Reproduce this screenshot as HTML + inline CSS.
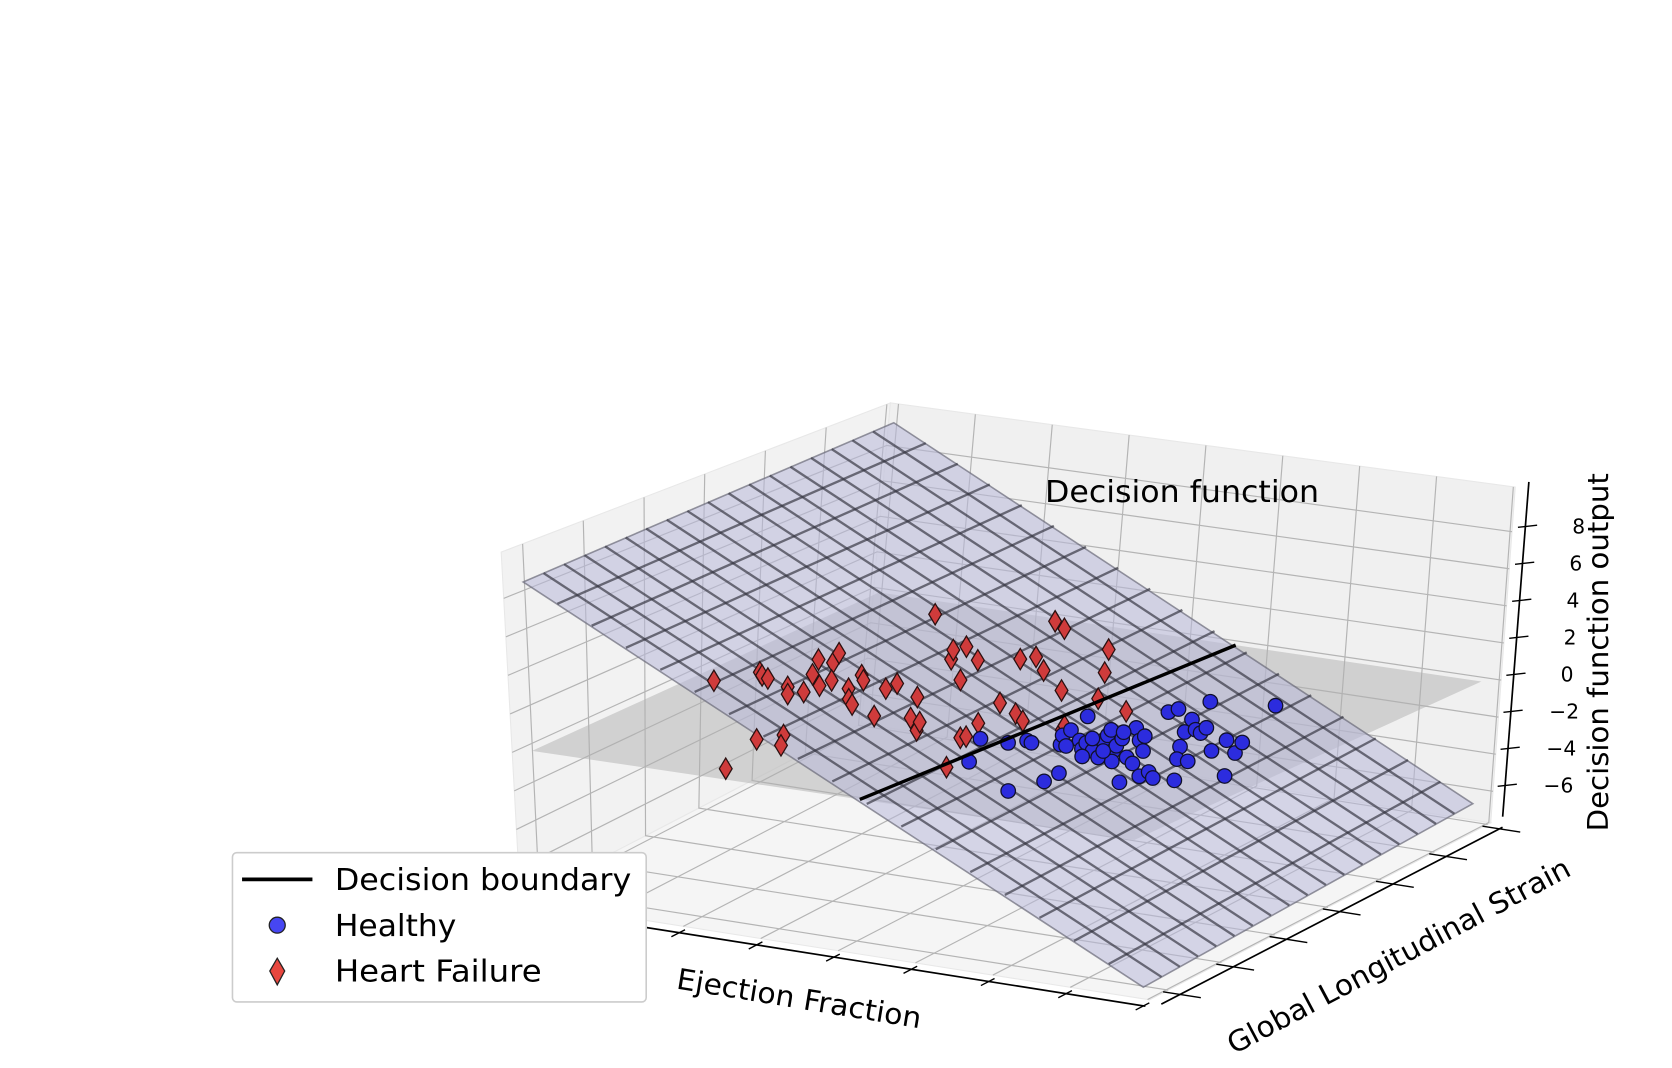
<!DOCTYPE html>
<html><head><meta charset="utf-8"><title>Decision function</title>
<style>html,body{margin:0;padding:0;background:#fff;}svg{display:block;font-family:"DejaVu Sans","Liberation Sans",sans-serif;}</style>
</head><body>
<svg id="chart" width="1672" height="1068" viewBox="0 0 1568 1002" preserveAspectRatio="none" xmlns="http://www.w3.org/2000/svg">
<g id="panes"></g>
<g id="grid"></g>
<g id="axes"></g>
<g id="surfaces"></g>
<g id="points"></g>
<g id="boundary"></g>
<text x="980" y="471" font-size="28" textLength="257" lengthAdjust="spacingAndGlyphs" fill="#000">Decision function</text>
<text x="0" y="0" font-size="27" text-anchor="middle" transform="translate(748,946) rotate(9.3)" textLength="232" lengthAdjust="spacingAndGlyphs" fill="#000">Ejection Fraction</text>
<text x="0" y="0" font-size="27" text-anchor="middle" transform="translate(1316,905) rotate(-28)" textLength="360" lengthAdjust="spacingAndGlyphs" fill="#000">Global Longitudinal Strain</text>
<text x="0" y="0" font-size="27" text-anchor="middle" transform="translate(1508,612) rotate(-90)" textLength="336" lengthAdjust="spacingAndGlyphs" fill="#000">Decision function output</text>
<g id="zlabels"></g>
<g>
  <rect x="218" y="800" width="388" height="140" rx="4" fill="#fff" stroke="#cccccc" stroke-width="1.5"/>
  <line x1="227" y1="825" x2="293" y2="825" stroke="#000" stroke-width="3.5"/>
  <text x="314" y="835" font-size="28" textLength="278" lengthAdjust="spacingAndGlyphs">Decision boundary</text>
  <circle cx="260" cy="868" r="7.5" fill="#4646f2" stroke="#222" stroke-width="1.2"/>
  <text x="314" y="878" font-size="28" textLength="114" lengthAdjust="spacingAndGlyphs">Healthy</text>
  <polygon points="260,899 267,911 260,924 253,911" fill="#e8473f" stroke="#222" stroke-width="1.2"/>
  <text x="314" y="921" font-size="28" textLength="194" lengthAdjust="spacingAndGlyphs">Heart Failure</text>
</g>
</svg>
<script>
// ---- data (normalized scale 0..100 on both feature axes) ----
const efHealthy = [52.8,57.5,57.2,58.9,60.0,69.9,71.7,71.3,64.0,61.8,61.4,59.8,65.2,67.7,66.6,69.5,71.9,68.0,67.2,66.2,72.0,74.6,71.0,69.8,75.3,77.6,68.7,72.4,75.6,71.9,81.0,81.8,81.8,83.9,68.4,68.8,75.6,73.2,76.3,77.8,77.1,70.7,78.9,81.8,83.7,87.1,83.8,92.0,82.8,87.2,85.3,79.6,69.7,65.0,68.3,70.8,66.2];
const glsHealthy = [37.9,26.6,37.9,40.2,39.5,15.9,22.7,27.5,40.6,45.0,48.0,55.4,43.8,40.1,43.2,39.9,37.3,45.4,48.1,50.8,41.3,36.4,43.9,47.6,39.3,36.9,53.4,47.9,43.3,50.2,27.4,31.5,34.1,31.6,62.8,64.9,54.8,61.0,56.6,55.4,58.2,70.4,47.8,41.9,41.6,32.0,48.0,37.4,53.9,48.6,53.9,73.0,36.7,40.4,50.6,40.6,45.6];
const efFailure = [5.4,8.7,9.8,11.3,15.9,17.8,19.2,15.6,19.4,15.0,13.2,19.5,23.7,26.5,28.3,21.7,23.3,34.0,28.2,28.2,38.9,34.2,42.9,41.1,14.5,28.3,26.1,26.8,31.8,34.9,50.1,50.5,48.4,45.7,50.4,53.2,36.6,37.9,42.4,30.8,33.9,49.8,44.7,50.3,56.4,63.1,60.3,26.0,28.1,30.5,30.0,56.2,12.4,59.5];
const glsFailure = [46.4,53.4,52.1,51.1,48.6,45.3,47.3,56.0,51.3,62.7,67.5,54.5,51.9,47.1,44.9,59.0,56.7,41.1,54.4,57.5,42.7,52.7,37.4,41.4,91.8,72.3,76.7,79.1,73.6,63.4,37.0,37.9,44.9,55.6,51.8,48.9,77.0,79.1,73.4,96.7,93.9,65.5,87.4,76.6,64.2,60.3,47.4,22.5,26.3,21.4,7.0,22.6,63.2,49.5];
const xTicks = [1.3,13.6,25.9,38.2,50.5,62.8,75.1,87.4,99.7];
const yTicks = [5.5,21.1,36.7,52.3,67.9,83.5,99.1];
const zTicks = [-6,-4,-2,0,2,4,6,8];
const zTickLabels = ["\u22126","\u22124","\u22122","0","2","4","6","8"];
const planeCoef = [9.1,-0.168,0.008]; // z = c0 + c1*EF + c2*GLS
const xDomain = [0,100], yDomain = [0,100], zDomain = [-7.7,10.4];
const surfaceX = [2,98], surfaceY = [2,98];

// ---- projection (box corners) ----
const A0=[488,845],D0=[1078,938],C0=[1398,772],B0=[808,679];
const A1=[470,518],D1=[1056,597],C1=[1421,457],B1=[835,378];
function bil(a,d,c,b,u,v){return [(1-u)*(1-v)*a[0]+u*(1-v)*d[0]+u*v*c[0]+(1-u)*v*b[0],(1-u)*(1-v)*a[1]+u*(1-v)*d[1]+u*v*c[1]+(1-u)*v*b[1]];}
function P(u,v,w){const b=bil(A0,D0,C0,B0,u,v),t=bil(A1,D1,C1,B1,u,v);return [b[0]+(t[0]-b[0])*w,b[1]+(t[1]-b[1])*w];}
const sx=e=>(e-xDomain[0])/(xDomain[1]-xDomain[0]);
const sy=g=>(g-yDomain[0])/(yDomain[1]-yDomain[0]);
const sz=z=>(z-zDomain[0])/(zDomain[1]-zDomain[0]);
const zf=(e,g)=>planeCoef[0]+planeCoef[1]*e+planeCoef[2]*g;
const NS='http://www.w3.org/2000/svg';
function mk(tag,parent,attrs){const el=document.createElementNS(NS,tag);for(const k in attrs)el.setAttribute(k,attrs[k]);parent.appendChild(el);return el;}
const pts=a=>a.map(p=>p[0].toFixed(1)+','+p[1].toFixed(1)).join(' ');

// panes
const panes=document.getElementById('panes');
let el;
el=mk('polygon',panes,{points:pts([P(0,0,0),P(0,1,0),P(0,1,1),P(0,0,1)]),fill:'#f2f2f2',stroke:'#e8e8e8'});


el=mk('polygon',panes,{points:pts([P(0,1,0),P(1,1,0),P(1,1,1),P(0,1,1)]),fill:'#f0f0f0',stroke:'#e8e8e8'});


el=mk('polygon',panes,{points:pts([P(0,0,0),P(1,0,0),P(1,1,0),P(0,1,0)]),fill:'#f5f5f5',stroke:'#e8e8e8'});



// grid
const grid=document.getElementById('grid');
const gs={stroke:'#b4b4b4','stroke-width':1.1,fill:'none'};
xTicks.forEach(t=>{const u=sx(t);
  el=mk('polyline',grid,Object.assign({points:pts([P(u,0,0),P(u,1,0),P(u,1,1)])},gs));
  
  
});
yTicks.forEach(t=>{const v=sy(t);
  el=mk('polyline',grid,Object.assign({points:pts([P(1,v,0),P(0,v,0),P(0,v,1)])},gs));
  
  
});
zTicks.forEach(t=>{const w=sz(t);
  el=mk('polyline',grid,Object.assign({points:pts([P(0,0,w),P(0,1,w),P(1,1,w)])},gs));
  
  
});

// axes
const axes=document.getElementById('axes');
el=mk('line',axes,{x1:P(0,-0.012,0)[0],y1:P(0,-0.012,0)[1]+4,x2:P(1,-0.012,0)[0],y2:P(1,-0.012,0)[1]+4,stroke:'#000','stroke-width':1.6});


xTicks.forEach(t=>{const u=sx(t);const a=P(u,-0.035,0),b=P(u,0.005,0);
  el=mk('line',axes,{x1:a[0],y1:a[1]+4,x2:b[0],y2:b[1]+4,stroke:'#000','stroke-width':1.3});
  
  
});
el=mk('line',axes,{x1:P(1.012,0,0)[0]+4,y1:P(1.012,0,0)[1]+3,x2:P(1.012,1,0)[0]+4,y2:P(1.012,1,0)[1]+3,stroke:'#000','stroke-width':1.6});


yTicks.forEach(t=>{const v=sy(t);const a=P(0.985,v,0),b=P(1.045,v,0);
  el=mk('line',axes,{x1:a[0]+4,y1:a[1]+3,x2:b[0]+4,y2:b[1]+3,stroke:'#000','stroke-width':1.3});
  
  
});
const zl=document.getElementById('zlabels');
const zA=P(1,1.035,0),zB=P(1,1.035,1);
el=mk('line',axes,{x1:zA[0],y1:zA[1],x2:zB[0],y2:zB[1],stroke:'#000','stroke-width':1.6});


zTicks.forEach((t,i)=>{const p=P(1,1.035,sz(t));
  el=mk('line',axes,{x1:p[0]-7,y1:p[1]+1,x2:p[0]+11,y2:p[1]-1,stroke:'#000','stroke-width':1.3});
  
  
  const tx=mk('text',zl,{x:p[0]+50,y:p[1]+7,'font-size':19,'text-anchor':'middle',fill:'#000'});
  tx.textContent=zTickLabels[i];
  
  
});

// surfaces
const surf=document.getElementById('surfaces');
const [e0,e1]=surfaceX,[g0,g1]=surfaceY;
el=mk('polygon',surf,{points:pts([P(sx(e0),sy(g0),sz(0)),P(sx(e1),sy(g0),sz(0)),P(sx(e1),sy(g1),sz(0)),P(sx(e0),sy(g1),sz(0))]),fill:'#b0b0b0','fill-opacity':0.5});


const SP=(e,g)=>P(sx(e),sy(g),sz(zf(e,g)));
el=mk('polygon',surf,{points:pts([SP(e0,g0),SP(e1,g0),SP(e1,g1),SP(e0,g1)]),fill:'#b8b8d8','fill-opacity':0.55,stroke:'#6a6a78','stroke-width':1.5,'stroke-opacity':0.7});


const N=18;
for(let i=1;i<N;i++){
  const e=e0+(e1-e0)*i/N, g=g0+(g1-g0)*i/N;
  el=mk('line',surf,{x1:SP(e,g0)[0],y1:SP(e,g0)[1],x2:SP(e,g1)[0],y2:SP(e,g1)[1],stroke:'#34343f','stroke-opacity':0.68,'stroke-width':2.2});
  
  
  el=mk('line',surf,{x1:SP(e0,g)[0],y1:SP(e0,g)[1],x2:SP(e1,g)[0],y2:SP(e1,g)[1],stroke:'#34343f','stroke-opacity':0.68,'stroke-width':2.2});
  
  
}

// points (plotted on z = 0)
const pg=document.getElementById('points');
efFailure.forEach((e,i)=>{const p=P(sx(e),sy(glsFailure[i]),sz(0));
  el=mk('polygon',pg,{points:pts([[p[0],p[1]-10],[p[0]+6,p[1]],[p[0],p[1]+10],[p[0]-6,p[1]]]),fill:'#cf3b3b',stroke:'#2a1010','stroke-width':1.2});
  
  
});
efHealthy.forEach((e,i)=>{const p=P(sx(e),sy(glsHealthy[i]),sz(0));
  el=mk('circle',pg,{cx:p[0],cy:p[1],r:6.8,fill:'#2c2cde',stroke:'#10102a','stroke-width':1.2});
  
  
});

// decision boundary (z = 0 on the surface)
const bg=document.getElementById('boundary');
const eAt=g=>-(planeCoef[0]+planeCoef[2]*g)/planeCoef[1];
const bA=P(sx(eAt(g0)),sy(g0),sz(0)),bB=P(sx(eAt(g1)),sy(g1),sz(0));
el=mk('line',bg,{x1:bA[0],y1:bA[1],x2:bB[0],y2:bB[1],stroke:'#000','stroke-width':3.2});


</script>
</body></html>
